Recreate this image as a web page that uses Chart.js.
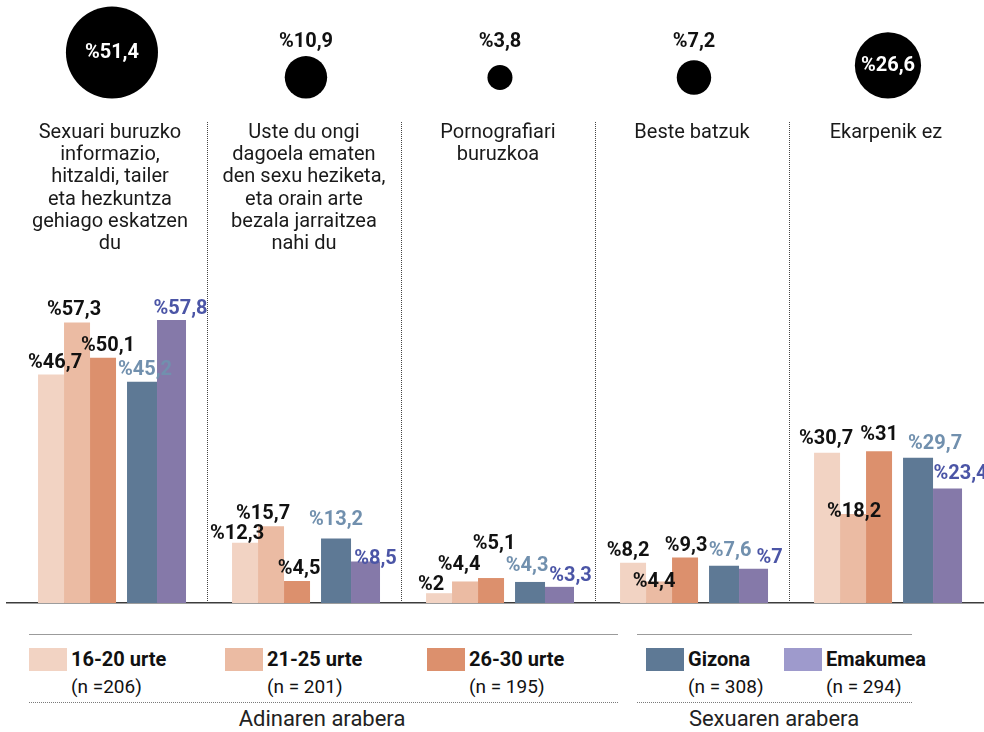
<!DOCTYPE html>
<html lang="eu">
<head>
<meta charset="utf-8">
<title>Sexu heziketari buruzko ekarpenak</title>
<script src="https://cdn.jsdelivr.net/npm/chart.js@4.4.1/dist/chart.umd.min.js"></script>
<style>
  html, body { margin: 0; padding: 0; background: #fff; }
  body { width: 984px; height: 732px; position: relative; overflow: hidden;
         font-family: Roboto, "Noto Sans", sans-serif; color: #111; }
  #plot { position: absolute; left: 0; top: 0; width: 984px; height: 604px; }
  .rule { position: absolute; height: 0; border-top: 1.5px solid #9b9b9b; }
  .dots { position: absolute; height: 0; border-top: 1px dotted #7a7a7a; }
  .sw { position: absolute; width: 38px; height: 23px; }
  .lt { position: absolute; font-size: 19px; line-height: 27px; white-space: nowrap; color: #111; }
  .lt b { font-weight: 700; font-size: 20px; }
  .cap { position: absolute; font-size: 22px; line-height: 26px; white-space: nowrap; color: #222;
         transform: translateX(-50%); }
</style>
</head>
<body>
<div id="plot"><canvas id="chart"></canvas></div>
<div id="legend"></div>
<script>
// ---- data -------------------------------------------------------------
const categories = [
  ['Sexuari buruzko', 'informazio,', 'hitzaldi, tailer', 'eta hezkuntza', 'gehiago eskatzen', 'du'],
  ['Uste du ongi', 'dagoela ematen', 'den sexu heziketa,', 'eta orain arte', 'bezala jarraitzea', 'nahi du'],
  ['Pornografiari', 'buruzkoa'],
  ['Beste batzuk'],
  ['Ekarpenik ez']
];
const totalShare = [51.4, 10.9, 3.8, 7.2, 26.6];
const age16to20  = [46.7, 12.3, 2, 8.2, 30.7];
const age21to25  = [57.3, 15.7, 4.4, 4.4, 18.2];
const age26to30  = [50.1, 4.5, 5.1, 9.3, 31];
const men        = [45.2, 13.2, 4.3, 7.6, 29.7];
const women      = [57.8, 8.5, 3.3, 7, 23.4];
const seriesNames = ['16-20 urte', '21-25 urte', '26-30 urte', 'Gizona', 'Emakumea'];
const sampleSizes = ['(n =206)', '(n = 201)', '(n = 195)', '(n = 308)', '(n = 294)'];
const groupTitles = ['Adinaren arabera', 'Sexuaren arabera'];

const seriesValues = [age16to20, age21to25, age26to30, men, women];

// ---- styling ----------------------------------------------------------
const barColors    = ['#F2D3C3', '#EBBBA3', '#DC906D', '#5E7995', '#8579A9'];
const swatchColors = ['#F2D3C3', '#EBBBA3', '#DC906D', '#5E7995', '#9E9ACC'];
const labelColors  = ['#111111', '#111111', '#111111', '#7190AE', '#4B55A6'];
const barWidths    = [26, 26, 26, 30, 29];
// bar centre offsets inside each panel (category units)
const slotOffsets  = [-0.314, -0.180, -0.046, 0.155, 0.307];
// small hand nudges [dx, dy] for value labels so they do not collide
const labelNudge = [
  [[4, 1], [-8, 3], [-8, 4], [-5, 0], [-1, -2]],
  [[-3, -1], [-8, 0], [-6, -4], [-5, 13], [1, 10]],
  [[5, 0], [2, 0], [3, -22], [1, 1], [0, -4]],
  [[3, 0], [0, -6], [-3, -4], [6, -3], [17, -2]],
  [[9, 1], [10, 10], [11, 1], [16, 1], [13, -2]]
];
const BUBBLE_K = 6.42;          // radius = K * sqrt(share)
const BUBBLE_MIN_LIFT = 21;     // small bubbles share a common centre line
const BUBBLE_BASE = 98.5;       // px from top where the big bubbles rest
const BUBBLE_LABEL_Y = 42;
const SEPARATOR_TOP = 122;
const TITLE_TOP = 133;
const TITLE_LINE = 22.2;

const pct = v => '%' + String(v).replace('.', ',');

// ---- datasets ---------------------------------------------------------
const datasets = seriesValues.map((vals, s) => ({
  type: 'bar',
  label: seriesNames[s],
  data: vals.map((v, i) => ({ x: i + slotOffsets[s], y: v })),
  backgroundColor: barColors[s],
  borderWidth: 0,
  maxBarThickness: barWidths[s],
  barPercentage: 4,
  categoryPercentage: 1,
  grouped: false,
  order: 5 - s,
  yAxisID: 'y'
}));
datasets.push({
  type: 'bubble',
  label: 'Guztira',
  data: totalShare.map((v, i) => {
    const r = BUBBLE_K * Math.sqrt(v);
    return { x: i, y: Math.max(r, BUBBLE_MIN_LIFT), r };
  }),
  backgroundColor: '#000',
  borderWidth: 0,
  clip: false,
  yAxisID: 'yb',
  order: 0
});

// ---- panel titles, separators and value labels ------------------------
const panelDecor = {
  id: 'panelDecor',
  beforeDatasetsDraw(chart) {
    const { ctx, chartArea, scales: { x } } = chart;
    ctx.save();
    ctx.strokeStyle = '#444';
    ctx.lineWidth = 1;
    ctx.setLineDash([1, 1]);
    for (let i = 0; i < categories.length - 1; i++) {
      const px = Math.round(x.getPixelForValue(i + 0.5) - 2) + 0.5;
      ctx.beginPath();
      ctx.moveTo(px, SEPARATOR_TOP);
      ctx.lineTo(px, chartArea.bottom);
      ctx.stroke();
    }
    ctx.setLineDash([]);
    ctx.fillStyle = '#1a1a1a';
    ctx.font = '20px Roboto';
    ctx.textAlign = 'center';
    ctx.textBaseline = 'middle';
    categories.forEach((lines, i) => {
      const cx = x.getPixelForValue(i) - 2;
      lines.forEach((t, k) => ctx.fillText(t, cx, TITLE_TOP + k * TITLE_LINE));
    });
    ctx.restore();
  },
  afterDatasetsDraw(chart) {
    const { ctx } = chart;
    ctx.save();
    ctx.textAlign = 'center';
    ctx.textBaseline = 'middle';
    ctx.font = 'bold 20px Roboto';
    seriesValues.forEach((vals, s) => {
      const meta = chart.getDatasetMeta(s);
      ctx.fillStyle = labelColors[s];
      vals.forEach((v, i) => {
        const el = meta.data[i];
        const [dx, dy] = labelNudge[s][i];
        ctx.fillText(pct(v), el.x + dx, el.y - 12 + dy);
      });
    });
    const bub = chart.getDatasetMeta(seriesValues.length);
    totalShare.forEach((v, i) => {
      const el = bub.data[i];
      const r = el.options.radius;
      if (r >= 30) {
        ctx.fillStyle = '#fff';
        ctx.fillText(pct(v), el.x, el.y + 1);
      } else {
        ctx.fillStyle = '#111';
        ctx.fillText(pct(v), el.x, BUBBLE_LABEL_Y);
      }
    });
    ctx.restore();
  }
};

new Chart(document.getElementById('chart'), {
  type: 'bar',
  data: { datasets },
  options: {
    responsive: true,
    maintainAspectRatio: false,
    animation: false,
    events: [],
    layout: { autoPadding: false, padding: { left: 7, right: 0, top: 0, bottom: 1 } },
    plugins: { legend: { display: false }, tooltip: { enabled: false } },
    scales: {
      x: {
        type: 'linear', min: -0.541, max: 4.495, offset: false,
        grid: { display: false, drawTicks: false },
        ticks: { display: false },
        border: { display: true, color: '#3c3c3c', width: 1.5 }
      },
      y: { type: 'linear', display: false, min: 0, max: 123.2 },
      yb: { type: 'linear', display: false, min: BUBBLE_BASE - 603, max: BUBBLE_BASE }
    }
  },
  plugins: [panelDecor]
});

// ---- legend -----------------------------------------------------------
const legend = document.getElementById('legend');
const add = (cls, style, html) => {
  const d = document.createElement('div');
  d.className = cls;
  Object.assign(d.style, style);
  if (html) d.innerHTML = html;
  legend.appendChild(d);
  return d;
};
const swatchX = [29, 225, 427, 646, 784];
add('rule', { left: '29px', top: '634px', width: '589px' });
add('rule', { left: '637px', top: '634px', width: '275px' });
seriesNames.forEach((name, s) => {
  add('sw', { left: swatchX[s] + 'px', top: '648px', background: swatchColors[s] });
  add('lt', { left: (swatchX[s] + 42) + 'px', top: '646px' },
      '<b>' + name + '</b><br>' + sampleSizes[s]);
});
add('dots', { left: '29px', top: '702px', width: '589px' });
add('dots', { left: '637px', top: '702px', width: '275px' });
add('cap', { left: '322px', top: '706px' }, groupTitles[0]);
add('cap', { left: '774px', top: '706px' }, groupTitles[1]);
</script>
</body>
</html>
